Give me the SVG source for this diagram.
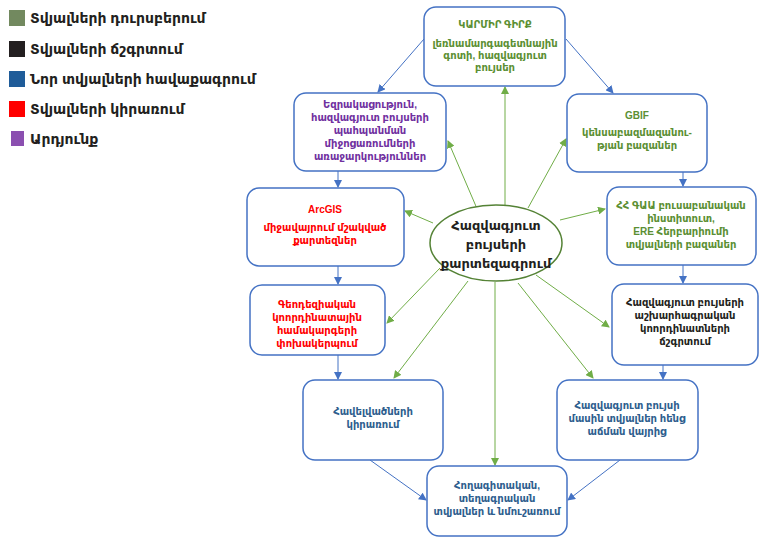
<svg xmlns="http://www.w3.org/2000/svg" width="763" height="540" viewBox="0 0 763 540">
<defs>
<marker id="ab" markerWidth="8" markerHeight="8" refX="7" refY="4" orient="auto" markerUnits="userSpaceOnUse"><path d="M0,0 L8,4 L0,8 z" fill="#4472C4"/></marker>
<marker id="ag" markerWidth="8" markerHeight="8" refX="7" refY="4" orient="auto" markerUnits="userSpaceOnUse"><path d="M0,0 L8,4 L0,8 z" fill="#70AD47"/></marker>
<style>
text{font-family:"Liberation Sans","DejaVu Sans",sans-serif;font-weight:bold;text-anchor:middle}
.box{fill:#fff;stroke:#4472C4;stroke-width:1.5}
.leg{font-size:14px;text-anchor:start;fill:#231F20}
.t{font-size:10px}
.g{fill:#5B8F33}.p{fill:#7030A0}.r{fill:#FF0000}.k{fill:#231F20}.b{fill:#2E5E8E}
.cb{stroke:#4472C4;stroke-width:1;fill:none;marker-end:url(#ab)}
.cg{stroke:#70AD47;stroke-width:1;fill:none;marker-end:url(#ag)}
</style>
</defs>
<rect width="763" height="540" fill="#fff"/>
<g id="legend">
<rect x="9" y="10" width="16" height="16" fill="#72895F"/><text class="leg" x="30" y="23">Տվյալների դուրսբերում</text>
<rect x="9" y="41" width="16" height="16" fill="#231F20"/><text class="leg" x="30" y="54">Տվյալների ճշգրտում</text>
<rect x="9" y="71" width="16" height="16" fill="#1F5C99"/><text class="leg" x="30" y="84">Նոր տվյալների հավաքագրում</text>
<rect x="9" y="101" width="16" height="16" fill="#FF0000"/><text class="leg" x="30" y="114">Տվյալների կիրառում</text>
<rect x="11" y="131" width="13" height="15" fill="#8B4FB0"/><text class="leg" x="30" y="144">Արդյունք</text>
</g>
<g id="connectors">
<line class="cb" x1="424" y1="39" x2="378" y2="92"/>
<line class="cb" x1="566" y1="39" x2="613" y2="93"/>
<line class="cb" x1="338" y1="171" x2="338" y2="187"/>
<line class="cb" x1="338" y1="266" x2="338" y2="284"/>
<line class="cb" x1="338" y1="355" x2="338" y2="379"/>
<line class="cb" x1="370" y1="460" x2="426" y2="500"/>
<line class="cb" x1="683" y1="172" x2="683" y2="186"/>
<line class="cb" x1="683" y1="265" x2="683" y2="283"/>
<line class="cb" x1="663" y1="365" x2="663" y2="379"/>
<line class="cb" x1="620" y1="460" x2="568" y2="500"/>
<line class="cg" x1="505" y1="205" x2="505" y2="87"/>
<line class="cg" x1="478" y1="211" x2="448" y2="141"/>
<line class="cg" x1="528" y1="208" x2="566" y2="139"/>
<line class="cg" x1="433" y1="223" x2="405" y2="211"/>
<line class="cg" x1="560" y1="220" x2="605" y2="209"/>
<line class="cg" x1="440" y1="268" x2="387" y2="323"/>
<line class="cg" x1="536" y1="275" x2="609" y2="327"/>
<line class="cg" x1="468" y1="281" x2="394" y2="378"/>
<line class="cg" x1="518" y1="283" x2="593" y2="378"/>
<line class="cg" x1="495" y1="282" x2="495" y2="465"/>
</g>
<g id="n-red-book">
<rect class="box" x="424" y="7" width="141" height="79" rx="12"/>
<text class="t g" x="495" y="28">ԿԱՐՄԻՐ ԳԻՐՔ</text>
<text class="t g" x="495" y="47">լեռնամարգագետնային</text>
<text class="t g" x="495" y="59">գոտի, հազվագյուտ</text>
<text class="t g" x="495" y="71">բույսեր</text>
</g>
<g id="n-proposals">
<rect class="box" x="294" y="93" width="152" height="78" rx="12"/>
<text class="t p" x="370" y="108">Եզրակացություն,</text>
<text class="t p" x="370" y="121">հազվագյուտ բույսերի</text>
<text class="t p" x="370" y="134">պահպանման</text>
<text class="t p" x="370" y="147">միջոցառումների</text>
<text class="t p" x="370" y="160">առաջարկություններ</text>
</g>
<g id="n-gbif">
<rect class="box" x="567" y="94" width="140" height="78" rx="12"/>
<text class="t g" x="637" y="119">GBIF</text>
<text class="t g" x="637" y="136">կենսաբազմազանու-</text>
<text class="t g" x="637" y="149">թյան բազաներ</text>
</g>
<g id="n-arcgis">
<rect class="box" x="247" y="188" width="157" height="78" rx="12"/>
<text class="t r" x="325" y="213">ArcGIS</text>
<text class="t r" x="325" y="231">միջավայրում մշակված</text>
<text class="t r" x="325" y="244">քարտեզներ</text>
</g>
<g id="n-nas">
<rect class="box" x="607" y="187" width="149" height="78" rx="12"/>
<text class="t g" x="681" y="209">ՀՀ ԳԱԱ բուսաբանական</text>
<text class="t g" x="681" y="222">ինստիտուտ,</text>
<text class="t g" x="681" y="235">ERE Հերբարիումի</text>
<text class="t g" x="681" y="248">տվյալների բազաներ</text>
</g>
<g id="n-center">
<ellipse cx="496" cy="243" rx="66" ry="38" fill="#fff" stroke="#548235" stroke-width="1.5"/>
<text class="k" x="496" y="230" font-size="13">Հազվագյուտ</text>
<text class="k" x="496" y="249" font-size="13">բույսերի</text>
<text class="k" x="496" y="268" font-size="13">քարտեզագրում</text>
</g>
<g id="n-geodetic">
<rect class="box" x="250" y="285" width="135" height="70" rx="12"/>
<text class="t r" x="317" y="308">Գեոդեզիական</text>
<text class="t r" x="317" y="321">կոորդինատային</text>
<text class="t r" x="317" y="334">համակարգերի</text>
<text class="t r" x="317" y="347">փոխակերպում</text>
</g>
<g id="n-coords">
<rect class="box" x="612" y="284" width="146" height="81" rx="12"/>
<text class="t k" x="685" y="306">Հազվագյուտ բույսերի</text>
<text class="t k" x="685" y="319">աշխարհագրական</text>
<text class="t k" x="685" y="332">կոորդինատների</text>
<text class="t k" x="685" y="345">ճշգրտում</text>
</g>
<g id="n-apps">
<rect class="box" x="303" y="380" width="140" height="80" rx="12"/>
<text class="t b" x="373" y="415">Հավելվածների</text>
<text class="t b" x="373" y="428">կիրառում</text>
</g>
<g id="n-field">
<rect class="box" x="557" y="380" width="141" height="80" rx="12"/>
<text class="t b" x="627" y="409">Հազվագյուտ բույսի</text>
<text class="t b" x="627" y="422">մասին տվյալներ հենց</text>
<text class="t b" x="627" y="435">աճման վայրից</text>
</g>
<g id="n-soil">
<rect class="box" x="427" y="466" width="140" height="70" rx="12"/>
<text class="t b" x="497" y="489">Հողագիտական,</text>
<text class="t b" x="497" y="502">տեղագրական</text>
<text class="t b" x="497" y="515">տվյալներ և նմուշառում</text>
</g>
</svg>
